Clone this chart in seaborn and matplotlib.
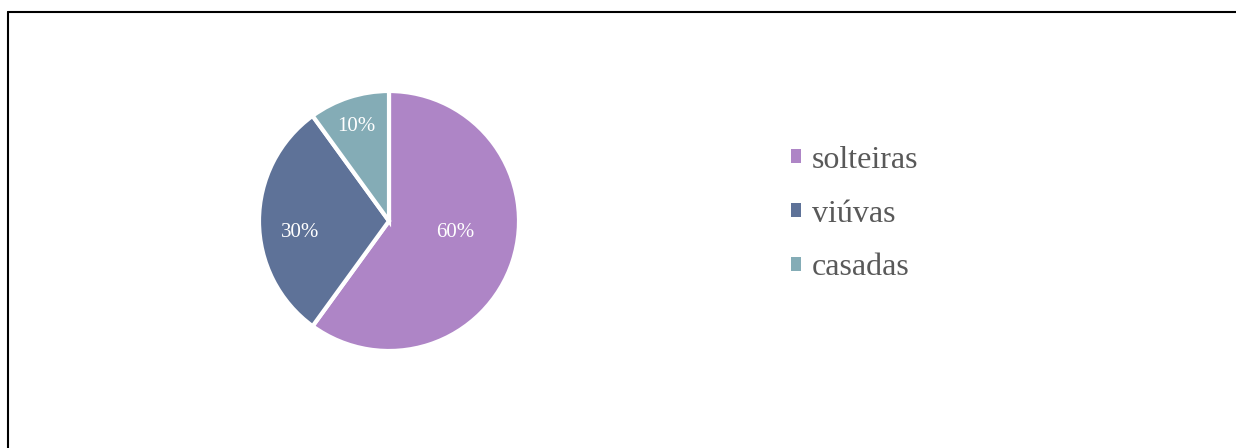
import matplotlib.pyplot as plt
import seaborn as sns
from matplotlib.lines import Line2D
from matplotlib.patches import Patch

categories = ['solteiras', 'viúvas', 'casadas']
shares = [60, 30, 10]
colors = sns.color_palette(['#AE85C6', '#5E7298', '#84ACB6'])

sns.set_theme(style='white')
plt.rcParams['font.family'] = ['Liberation Serif', 'DejaVu Serif']

W, H = 1236, 448
fig = plt.figure(figsize=(W / 100, H / 100), dpi=100)

# pie area: centre (389, 221), radius 130 px
ax = fig.add_axes([259 / W, (H - 351) / H, 260 / W, 260 / H])
wedges, texts, autotexts = ax.pie(
    shares, colors=colors, startangle=90, counterclock=False,
    autopct='%d%%', pctdistance=0.7,
    wedgeprops=dict(edgecolor='white', linewidth=3, clip_on=False),
    textprops=dict(color='white', fontsize=15))
ax.set_xlim(-1, 1)
ax.set_ylim(-1, 1)
ax.set_aspect('equal')

# nudge labels to match the spreadsheet layout
autotexts[0].set_position((0.51, -0.085))
autotexts[1].set_position((-0.68, -0.085))
autotexts[2].set_position((-0.25, 0.725))

handles = [Patch(facecolor=c, edgecolor='none') for c in colors]
leg = fig.legend(handles, categories, loc='center left',
                 bbox_to_anchor=(791 / W, 1 - 214 / H), frameon=False,
                 fontsize=23, handlelength=0.3, handleheight=0.3,
                 handletextpad=0.35, labelspacing=0.78, borderpad=0,
                 borderaxespad=0)
for t in leg.get_texts():
    t.set_color('#595959')

# chart frame (only top and left edges are visible in the crop)
fig.add_artist(Line2D([7.5 / W, 1], [1 - 12.5 / H, 1 - 12.5 / H], transform=fig.transFigure,
                      color='black', linewidth=1.5))
fig.add_artist(Line2D([7.5 / W, 7.5 / W], [0, 1 - 12.5 / H], transform=fig.transFigure,
                      color='black', linewidth=1.5))

plt.savefig('out.png', dpi=100)
plt.close()
